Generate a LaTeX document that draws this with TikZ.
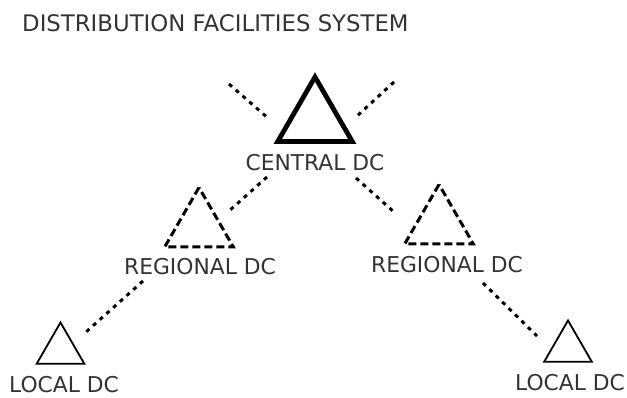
\documentclass[tikz,border=0pt]{standalone}
\usepackage{fontspec}
\setmainfont{DejaVu Sans}
\usetikzlibrary{shapes.geometric}

\begin{document}
\begin{tikzpicture}[x=1pt,y=-1pt,font=\fontsize{21.8}{26}\selectfont,text=black!80]
 \tikzstyle{every node}=[inner sep=0pt]
 \tikzstyle{dc}=[regular polygon,regular polygon sides=3,draw,fill=white]
 \tikzstyle{central}=[dc,line width=4.8pt,minimum size=86pt]
 \tikzstyle{regional}=[dc,line width=3pt,dash pattern=on 8pt off 4pt,minimum size=79pt]
 \tikzstyle{local}=[dc,line width=1.8pt,minimum size=55pt]
 \tikzstyle{link}=[line width=3pt,dash pattern=on 4pt off 5pt]

   \useasboundingbox (0,0) rectangle (627,397);
   \node[anchor=west,font=\fontsize{22.8}{27}\selectfont] (title) at (22,23) {DISTRIBUTION FACILITIES SYSTEM};

   \node[central] (cdc) at (315,120) {};
   \node[regional] (rdcl) at (199,227) {};
   \node[regional] (rdcr) at (439,224) {};
   \node[local] (ldcl) at (60.5,350) {};
   \node[local] (ldcr) at (568,348) {};

   \node (cdclab) at (315,163) {CENTRAL DC};
   \node (rdcllab) at (200,267) {REGIONAL DC};
   \node (rdcrlab) at (447,265) {REGIONAL DC};
   \node (ldcllab) at (64,384.5) {LOCAL DC};
   \node (ldcrlab) at (570,383) {LOCAL DC};

   % ends of the dotted links
   \coordinate (ul0) at (229,84);  \coordinate (ul1) at (269,119);
   \coordinate (ur0) at (394,82);  \coordinate (ur1) at (357,116);
   \coordinate (cl0) at (267,177); \coordinate (cl1) at (229,211);
   \coordinate (cr0) at (356,178); \coordinate (cr1) at (394,212);
   \coordinate (ll0) at (143,281); \coordinate (ll1) at (86,332);
   \coordinate (lr0) at (483,283); \coordinate (lr1) at (537,336);

   \draw[link] (ul0) -- (ul1);
   \draw[link] (ur0) -- (ur1);
   \draw[link] (cl0) -- (cl1);
   \draw[link] (cr0) -- (cr1);
   \draw[link] (ll0) -- (ll1);
   \draw[link] (lr0) -- (lr1);

\end{tikzpicture}
\end{document}
